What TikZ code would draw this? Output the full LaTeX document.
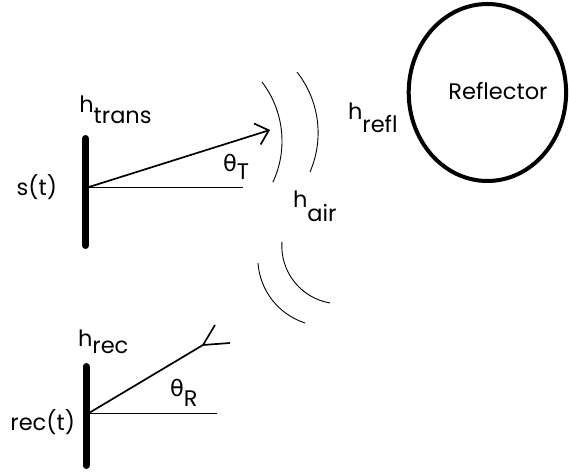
\documentclass[tikz,border=0pt]{standalone}
\usepackage{fontspec}
\setmainfont{Poppins}
\newfontfamily\grk{DejaVu Sans}
\usetikzlibrary{arrows.meta,shapes.geometric}
\newcommand{\lowsub}[2]{\raisebox{-#1pt}{#2}}
\tikzset{
  lbl/.style={inner sep=0pt, outer sep=0pt, font=\fontsize{22.5}{26}\selectfont, text=black},
  antenna/.style={line width=7pt, line cap=round},
  ray/.style={line width=1.7pt},
  ref/.style={line width=0.9pt},
  wave/.style={line width=0.9pt},
  barb/.style={-{Straight Barb[length=12pt,width=22pt,line width=1.7pt]}},
  reflbody/.style={draw, ellipse, line width=4pt, inner sep=0pt, outer sep=0pt,
     minimum width=157.4pt, minimum height=177pt}
}
\begin{document}
\begin{tikzpicture}[x=1pt,y=1pt]
\useasboundingbox (0,0) rectangle (569,473);
% antennas
\coordinate (tTop) at (85.5,334.5);
\coordinate (tBot) at (85.5,227.5);
\coordinate (rTop) at (86,106.5);
\coordinate (rBot) at (86,7.5);
\draw[antenna] (tTop) -- (tBot);
\draw[antenna] (rTop) -- (rBot);
% transmit ray
\coordinate (T0) at (89,286);
\coordinate (TT) at (270,343);
\coordinate (TH) at (243,286);
\draw[ray,barb] (T0) -- (TT);
\draw[ref] (T0) -- (TH);
% receive ray
\coordinate (R0) at (89,60);
\coordinate (RT) at (203,128);
\coordinate (RH) at (217,60);
\coordinate (RB1) at (215,148);
\coordinate (RB2) at (230,130);
\draw[ray] (R0) -- (RT);
\draw[ray] (RB1) -- (RT) -- (RB2);
\draw[ref] (R0) -- (RH);
% waves
\coordinate (c1) at (184.7,331.9);
\coordinate (c2) at (219.9,340.1);
\coordinate (c3) at (339.7,227.1);
\coordinate (c4) at (326,214.9);
\draw[wave] ([shift={(-25:97.3)}]c1) arc[start angle=-25, end angle=37.4, radius=97.3];
\draw[wave] ([shift={(-23.5:98.2)}]c2) arc[start angle=-23.5, end angle=38.3, radius=98.2];
\draw[wave] ([shift={(176:57.9)}]c3) arc[start angle=176, end angle=260.4, radius=57.9];
\draw[wave] ([shift={(184:68.2)}]c4) arc[start angle=184, end angle=252, radius=68.2];
% reflector
\node[reflbody] (reflector) at (487.4,380.5) {};
\node[lbl, anchor=center] (refl) at (498,382) {Reflector};
% labels
\node[lbl, anchor=base west] (htrans) at (79.3,360.3) {h\lowsub{10.6}{trans}};
\node[lbl, anchor=base west] (hrec) at (78,126) {h\lowsub{7}{rec}};
\node[lbl, anchor=base west] (hrefl) at (348,353) {h\lowsub{13}{refl}};
\node[lbl, anchor=base west] (hair) at (293,265) {h\lowsub{14}{air}};
\node[lbl, anchor=base west] (thT) at (223,301) {{\grk θ}\lowsub{8}{T}};
\node[lbl, anchor=base west] (thR) at (170,76) {{\grk θ}\lowsub{10}{R}};
\node[lbl, anchor=east] (st) at (57,286) {s(t)};
\node[lbl, anchor=east] (rect) at (75,51) {rec(t)};
\end{tikzpicture}
\end{document}
